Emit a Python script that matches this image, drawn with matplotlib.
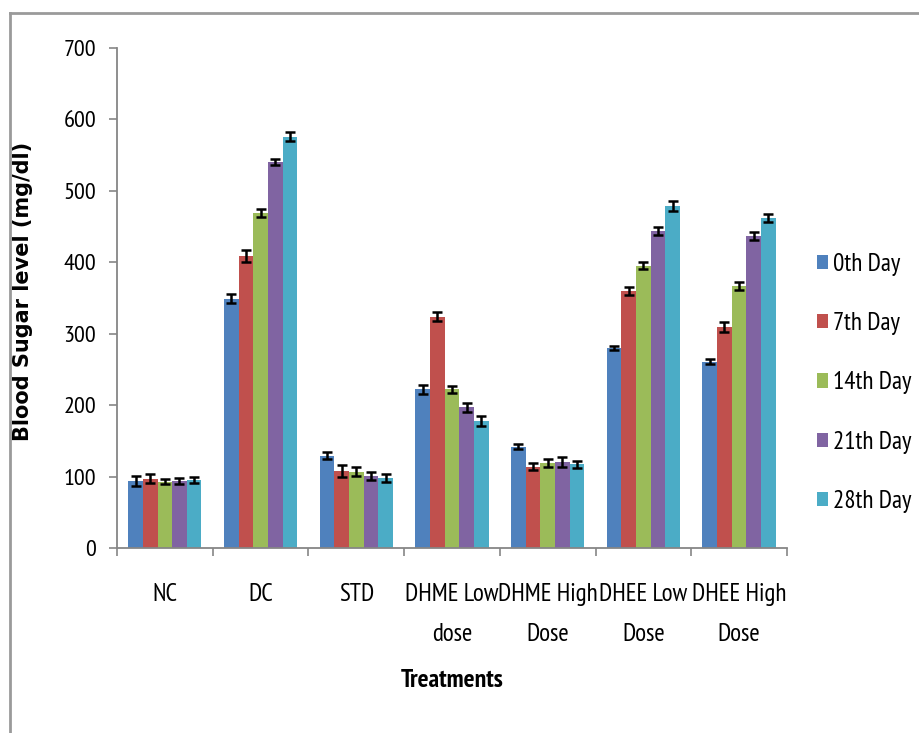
import matplotlib
matplotlib.use("Agg")
import matplotlib.pyplot as plt
import numpy as np
from matplotlib.lines import Line2D

categories = ["NC", "DC", "STD", "DHME Low\ndose", "DHME High\nDose", "DHEE Low\nDose", "DHEE High\nDose"]
series_names = ["0th Day", "7th Day", "14th Day", "21th Day", "28th Day"]
day0 = [94, 349, 129, 222, 142, 280, 261]
day7 = [97, 409, 108, 324, 114, 360, 309]
day14 = [93, 469, 107, 222, 119, 395, 367]
day21 = [94, 540, 101, 197, 120, 444, 437]
day28 = [95, 576, 98, 178, 117, 479, 462]
err0 = [7, 6, 5, 6, 4, 3, 4]
err7 = [6, 8, 8, 6, 5, 6, 7]
err14 = [4, 6, 6, 5, 6, 5, 6]
err21 = [4, 4, 6, 6, 7, 6, 6]
err28 = [4, 6, 6, 7, 5, 7, 5]
colors = ["#4F81BD", "#C0504D", "#9BBB59", "#8064A2", "#4BACC6"]

values = [day0, day7, day14, day21, day28]
errors = [err0, err7, err14, err21, err28]

plt.rcParams['font.family'] = ["PT Sans Narrow", "Carlito", "DejaVu Sans"]

fig = plt.figure(figsize=(9.19, 7.33), dpi=100)
ax = fig.add_axes([0.1273, 0.2524, 0.729, 0.6821])

x = np.arange(len(categories))
w = 0.153
for i, (vals, errs, c, name) in enumerate(zip(values, errors, colors, series_names)):
    pos = x + (i - 2) * w
    ax.bar(pos, vals, width=w, color=c, label=name, zorder=2)
    ax.errorbar(pos, vals, yerr=errs, fmt='none', ecolor='black', elinewidth=1.8,
                capsize=3.5, capthick=1.8, zorder=3)

ax.set_xlim(-0.5, len(categories) - 0.5)
ax.set_ylim(0, 700)
ax.set_yticks(range(0, 701, 100))
ax.set_xticks(x)
ax.set_xticklabels(categories, fontsize=18, linespacing=1.95)
ax.set_xticks(np.arange(-0.5, len(categories), 1), minor=True)
ax.tick_params(axis='x', which='major', length=0, pad=25)
ax.tick_params(axis='x', which='minor', length=6, width=1.2, color='#868686', direction='out')
ax.tick_params(axis='y', length=6, width=1.2, color='#868686', labelsize=17.5, pad=9)
for side in ['top', 'right']:
    ax.spines[side].set_visible(False)
for side in ['left', 'bottom']:
    ax.spines[side].set_color('#868686')
    ax.spines[side].set_linewidth(1.3)

ax.set_ylabel("Blood Sugar level (mg/dl)", fontsize=15, fontweight='bold',
              family=["DejaVu Sans"])
ax.yaxis.set_label_coords(-0.126, 0.513)
fig.text(0.492, 0.072, "Treatments", ha='center', va='center', fontsize=18.5, fontweight='bold')

leg = ax.legend(loc='center left', bbox_to_anchor=(1.045, 0.33), frameon=False,
                fontsize=18, handlelength=0.45, handleheight=0.5, handletextpad=0.2,
                labelspacing=1.45, borderpad=0, borderaxespad=0)

# figure frame lines (top and left)
fig.add_artist(Line2D([0.011, 1.0], [0.982, 0.982], transform=fig.transFigure, color='#9a9a9a', lw=2))
fig.add_artist(Line2D([0.011, 0.011], [0.0, 0.982], transform=fig.transFigure, color='#9a9a9a', lw=2))

fig.savefig("out.png", dpi=100)
